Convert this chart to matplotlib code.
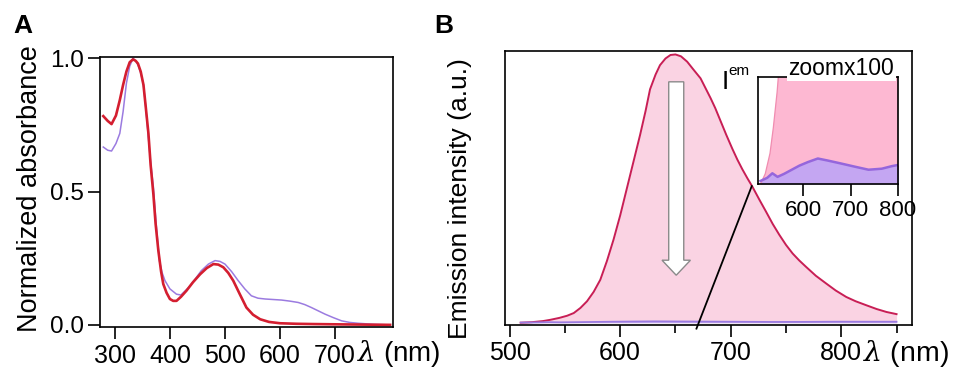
import matplotlib
matplotlib.use("Agg")
import matplotlib.pyplot as plt
from matplotlib.patches import FancyArrow

plt.rcParams['font.family'] = ['Liberation Sans', 'DejaVu Sans']
plt.rcParams['mathtext.fontset'] = 'custom'
plt.rcParams['mathtext.it'] = 'DejaVu Serif:italic'
plt.rcParams['mathtext.rm'] = 'Liberation Sans'

# --- panel A: normalized absorbance ---
abs_red_nm = [279, 287, 294, 302, 309, 315, 321, 327, 333, 338, 342, 347, 352, 356, 361,
              365, 370, 374, 379, 384, 388, 394, 400, 406, 412, 420, 430, 442, 455, 467,
              479, 488, 497, 506, 515, 527, 539, 551, 564, 580, 600, 630, 660, 700, 750, 800]
abs_red = [0.783, 0.765, 0.753, 0.785, 0.843, 0.90, 0.95, 0.985, 0.996, 0.99, 0.98, 0.95,
           0.90, 0.82, 0.718, 0.60, 0.49, 0.38, 0.279, 0.20, 0.153, 0.12, 0.097, 0.09, 0.09,
           0.105, 0.128, 0.16, 0.19, 0.213, 0.228, 0.226, 0.216, 0.195, 0.166, 0.115,
           0.065, 0.038, 0.021, 0.011, 0.006, 0.004, 0.003, 0.002, 0.001, 0.0]

abs_pur_nm = [279, 287, 294, 302, 309, 315, 321, 327, 333, 338, 342, 347, 352, 356, 361,
              365, 370, 375, 381, 386, 391, 400, 412, 420, 434, 446, 457, 470, 482, 491,
              500, 512, 524, 536, 548, 560, 573, 588, 603, 618, 633, 645, 657, 670, 682,
              697, 712, 727, 742, 770, 797]
abs_pur = [0.667, 0.655, 0.652, 0.68, 0.718, 0.80, 0.906, 0.97, 1.0, 0.99, 0.975, 0.945,
           0.90, 0.82, 0.70, 0.61, 0.517, 0.38, 0.24, 0.195, 0.166, 0.135, 0.115, 0.112,
           0.14, 0.172, 0.203, 0.228, 0.241, 0.238, 0.228, 0.20, 0.166, 0.135, 0.109,
           0.10, 0.097, 0.095, 0.093, 0.089, 0.084, 0.076, 0.065, 0.052, 0.04, 0.027,
           0.015, 0.009, 0.006, 0.002, 0.0]

# --- panel B: emission (peak normalised to 1) ---
em_red_nm = [510, 520, 530, 537, 545, 552, 558, 564, 570, 576, 582, 588, 594, 600, 606,
             612, 618, 623, 627, 632, 636, 641, 645.5, 650, 655, 660.6, 666, 672.7, 677,
             681.8, 686, 690, 696, 701.5, 706, 710.5, 715, 719.6, 726, 731.8, 738, 743.9,
             750, 756, 762, 768.2, 777, 786.4, 795, 804.5, 813, 822.7, 832, 840.9, 850]
em_red = [0.0, 0.002, 0.006, 0.011, 0.018, 0.026, 0.036, 0.055, 0.08, 0.115, 0.16, 0.23,
          0.31, 0.40, 0.50, 0.60, 0.70, 0.79, 0.87, 0.925, 0.96, 0.985, 0.998, 1.0, 0.993,
          0.973, 0.945, 0.911, 0.876, 0.837, 0.80, 0.76, 0.70, 0.648, 0.608, 0.572, 0.539,
          0.507, 0.458, 0.415, 0.368, 0.328, 0.29, 0.258, 0.232, 0.208, 0.175, 0.146, 0.12,
          0.096, 0.08, 0.065, 0.051, 0.04, 0.032]

em_pur_nm = [510, 524, 535, 546, 560, 574, 592, 610, 631, 652, 681, 709, 738, 766, 787,
             798, 825, 850]
em_pur = [0.0006, 0.0012, 0.0021, 0.0014, 0.0020, 0.0027, 0.0036, 0.0043, 0.0050, 0.0046,
          0.0040, 0.0034, 0.0028, 0.0030, 0.0035, 0.0037, 0.0036, 0.0037]

inset_scale = 100
inset_ticks = [600, 700, 800]

red_abs_c = '#d41e30'
pur_c = '#9b7be0'
em_line_c = '#c81e55'
em_fill_c = '#fad3e3'

fig = plt.figure(figsize=(9.54, 3.72), dpi=100)

# ---------------- panel A ----------------
axA = fig.add_axes([0.1048, 0.121, 0.307, 0.726])
axA.plot(abs_pur_nm, abs_pur, color=pur_c, lw=1.1)
axA.plot(abs_red_nm, abs_red, color=red_abs_c, lw=1.9)
axA.set_xlim(273, 805)
axA.set_ylim(-0.008, 1.005)
axA.set_xticks([300, 400, 500, 600, 700])
axA.set_yticks([0.0, 0.5, 1.0])
axA.set_yticklabels(['0.0', '0.5', '1.0'])
axA.tick_params(axis='x', direction='out', length=8.6, width=1.2, labelsize=18, pad=4)
axA.tick_params(axis='y', direction='out', length=8.6, width=1.2, labelsize=17.5, pad=3)
axA.set_ylabel('Normalized absorbance', fontsize=19.5)
axA.yaxis.set_label_coords(-0.195, 0.511)
for s in axA.spines.values():
    s.set_linewidth(1.2)
fig.text(0.374, 0.05, r'$\lambda$ (nm)', fontsize=20, ha='left', va='center')
fig.text(0.0236, 0.930, 'A', fontsize=19, fontweight='bold', ha='center', va='center')

# ---------------- panel B ----------------
axB = fig.add_axes([0.529, 0.126, 0.427, 0.737])
axB.fill_between(em_red_nm, 0, em_red, color=em_fill_c, lw=0)
axB.plot(em_red_nm, em_red, color=em_line_c, lw=1.4)
axB.fill_between(em_pur_nm, 0, em_pur, color='#c9b2f2', lw=0)
axB.plot(em_pur_nm, em_pur, color=pur_c, lw=1.3)
axB.set_xlim(495.5, 864)
axB.set_ylim(-0.009, 1.013)
axB.set_xticks([500, 600, 700, 800])
axB.set_xticks([550, 650, 750, 850], minor=True)
axB.set_yticks([])
axB.tick_params(axis='x', which='major', direction='out', length=8.6, width=1.2,
                labelsize=18, pad=3)
axB.tick_params(axis='x', which='minor', direction='out', length=6, width=1.2)
axB.set_ylabel('Emission intensity (a.u.)', fontsize=19)
axB.yaxis.set_label_coords(-0.081, 0.46)
for s in axB.spines.values():
    s.set_linewidth(1.2)

# hollow downward arrow at the emission maximum
arr = FancyArrow(650.7, 0.898, 0, -0.721, width=13.6, head_width=25.7, head_length=0.056,
                 length_includes_head=True, facecolor='white', edgecolor='#8a8a8a',
                 lw=1.0, zorder=4)
axB.add_patch(arr)

# black connector line to the inset
axB.plot([669, 719], [-0.022, 0.509], color='black', lw=1.3, clip_on=False, zorder=5)

fig.text(0.9046, 0.05, r'$\lambda$ (nm)', fontsize=20.5, ha='left', va='center')
fig.text(0.4654, 0.929, 'B', fontsize=19, fontweight='bold', ha='center', va='center')

# I^em label
fig.text(0.760, 0.7796, 'I', fontsize=19, ha='center', va='center')
fig.text(0.763, 0.808, 'em', fontsize=11, ha='left', va='center')

# ---------------- inset ----------------
axI = fig.add_axes([0.7942, 0.5054, 0.147, 0.2876])
inset_red = [v * inset_scale for v in em_red]
inset_pur = [v * inset_scale for v in em_pur]
axI.fill_between(em_red_nm, 0, inset_red, color='#fdb8d2', lw=0)
axI.plot(em_red_nm, inset_red, color='#f08cb0', lw=0.9)
axI.fill_between(em_pur_nm, 0, inset_pur, color='#c4a6f2', lw=0)
axI.plot(em_pur_nm, inset_pur, color='#9566dc', lw=1.8)
axI.set_xlim(504, 800)
axI.set_ylim(0, 2.1)
axI.set_xticks(inset_ticks)
axI.set_yticks([])
axI.tick_params(axis='x', direction='out', length=8.6, width=1.2, labelsize=16, pad=3)
for s in axI.spines.values():
    s.set_linewidth(1.2)
axI.text(0.597, 1.02, 'zoomx100', transform=axI.transAxes, fontsize=16.5,
         ha='center', va='baseline', zorder=10,
         bbox=dict(facecolor='white', edgecolor='none', pad=1.0))

fig.savefig('out.png', dpi=100)
